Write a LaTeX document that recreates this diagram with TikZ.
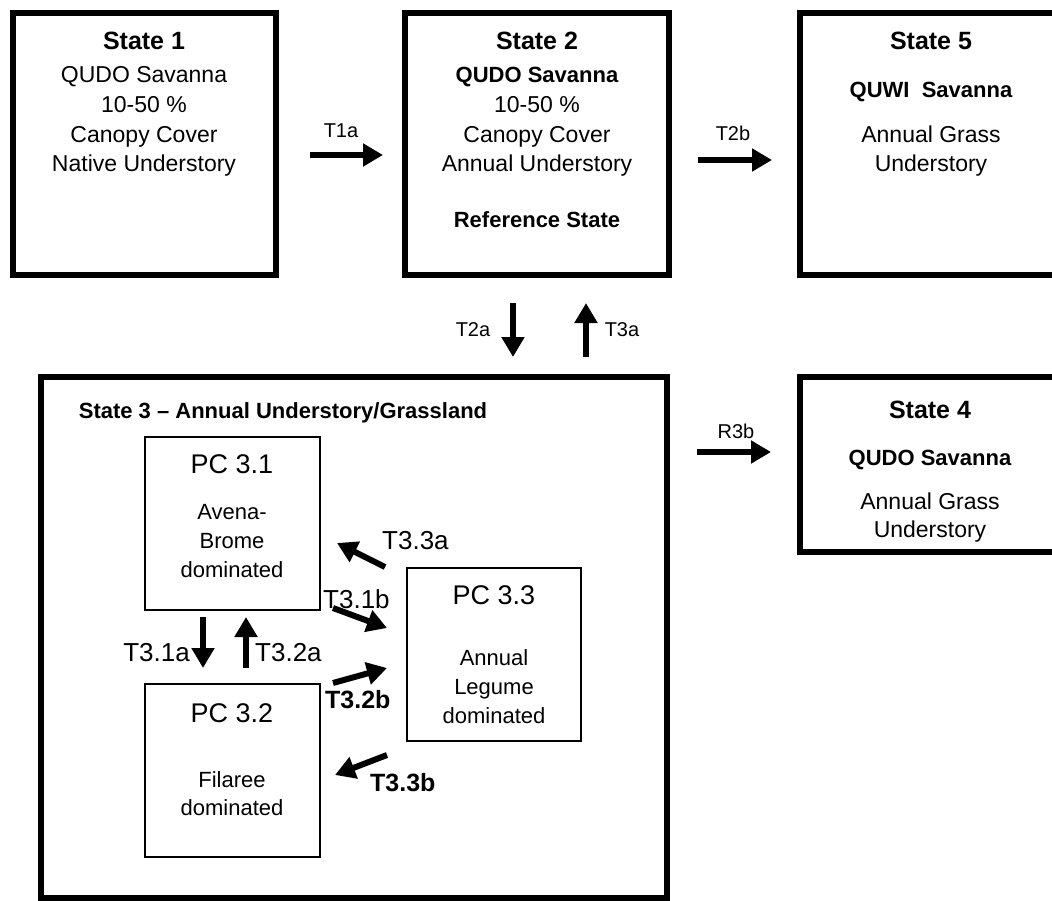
\documentclass[tikz,border=0pt]{standalone}
\usepackage{fontspec}
\setmainfont{Liberation Sans}
\usetikzlibrary{arrows.meta}
\begin{document}
\begin{tikzpicture}[x=1pt,y=-1pt,
  statebox/.style={draw=black, line width=6pt, inner sep=0pt, outer sep=0pt, anchor=north west},
  pcbox/.style={draw=black, line width=2pt, inner sep=0pt, outer sep=0pt, anchor=north west},
  tarrow/.style={line width=6pt, -{Triangle[length=20pt,width=22pt]}},
  ttl/.style={anchor=base, inner sep=0pt, font=\fontsize{25}{30}\selectfont\bfseries},
  body/.style={anchor=base, inner sep=0pt, font=\fontsize{23}{28}\selectfont},
  bodyb/.style={anchor=base, inner sep=0pt, font=\fontsize{22}{27}\selectfont\bfseries},
  pcttl/.style={anchor=base, inner sep=0pt, font=\fontsize{27}{32}\selectfont},
  pcbody/.style={anchor=base, inner sep=0pt, font=\fontsize{22}{27}\selectfont},
  tlab/.style={inner sep=0pt, font=\fontsize{26}{31}\selectfont},
  tlabb/.style={inner sep=0pt, font=\fontsize{25}{30}\selectfont\bfseries},
  slab/.style={anchor=base, inner sep=0pt, font=\fontsize{20}{24}\selectfont},
  s3ttl/.style={anchor=base, inner sep=0pt, font=\fontsize{22}{27}\selectfont\bfseries}
]
\useasboundingbox (0,0) rectangle (1052,901);
\clip (0,0) rectangle (1052,901);
\fill[white] (0,0) rectangle (1052,901);

% State boxes
\node[statebox, minimum width=263pt, minimum height=262pt] (s1) at (13,13) {};
\node[statebox, minimum width=264pt, minimum height=262pt] (s2) at (405,13) {};
\node[statebox, minimum width=264pt, minimum height=262pt] (s5) at (800,13) {};
\node[statebox, minimum width=264pt, minimum height=175pt] (s4) at (800,377) {};
\node[statebox, minimum width=626pt, minimum height=521pt] (s3) at (41,377) {};

% PC boxes
\node[pcbox, minimum width=175pt, minimum height=173pt] (pc31) at (145,437) {};
\node[pcbox, minimum width=175pt, minimum height=173pt] (pc32) at (145,684) {};
\node[pcbox, minimum width=174pt, minimum height=173pt] (pc33) at (407,568) {};

% State 1 text
\node[ttl]  (s1t) at (144,50) {State 1};
\node[body] (s1a) at (144,83) {QUDO Savanna};
\node[body] (s1b) at (144,113) {10-50 \%};
\node[body] (s1c) at (144,143) {Canopy Cover};
\node[body] (s1d) at (144,172) {Native Understory};

% State 2 text
\node[ttl]   (s2t) at (537,50) {State 2};
\node[bodyb] (s2a) at (537,83) {QUDO Savanna};
\node[body]  (s2b) at (537,113) {10-50 \%};
\node[body]  (s2c) at (537,143) {Canopy Cover};
\node[body]  (s2d) at (537,172) {Annual Understory};
\node[bodyb] (s2e) at (537,228) {Reference State};

% State 5 text
\node[ttl]   (s5t) at (931,50) {State 5};
\node[bodyb] (s5a) at (931,98) {QUWI\ \ Savanna};
\node[body]  (s5b) at (931,143) {Annual Grass};
\node[body]  (s5c) at (931,172) {Understory};

% State 4 text
\node[ttl]   (s4t) at (930,418) {State 4};
\node[bodyb] (s4a) at (930,465) {QUDO Savanna};
\node[body]  (s4b) at (930,509) {Annual Grass};
\node[body]  (s4c) at (930,537) {Understory};

% State 3 title
\node[s3ttl] (s3t) at (283,418) {State 3 -- Annual Understory/Grassland};

% PC texts
\node[pcttl]  (p1t) at (232,473) {PC 3.1};
\node[pcbody] (p1a) at (232,519) {Avena-};
\node[pcbody] (p1b) at (232,548) {Brome};
\node[pcbody] (p1c) at (232,577) {dominated};

\node[pcttl]  (p3t) at (494,604) {PC 3.3};
\node[pcbody] (p3a) at (494,665) {Annual};
\node[pcbody] (p3b) at (494,694) {Legume};
\node[pcbody] (p3c) at (494,723) {dominated};

\node[pcttl]  (p2t) at (232,722) {PC 3.2};
\node[pcbody] (p2a) at (232,787) {Filaree};
\node[pcbody] (p2b) at (232,815) {dominated};

% arrow end points
\coordinate (t1a-s) at (310,155);  \coordinate (t1a-e) at (383,155);
\coordinate (t2b-s) at (698,160);  \coordinate (t2b-e) at (772,160);
\coordinate (r3b-s) at (697,452);  \coordinate (r3b-e) at (771,452);
\coordinate (t2a-s) at (513,303);  \coordinate (t2a-e) at (513,357);
\coordinate (t3a-s) at (586,357);  \coordinate (t3a-e) at (586,303);
\coordinate (t31a-s) at (203,617); \coordinate (t31a-e) at (203,668);
\coordinate (t32a-s) at (246,668); \coordinate (t32a-e) at (246,617);
\coordinate (t33a-s) at (385,567); \coordinate (t33a-e) at (337,543);
\coordinate (t31b-s) at (333,608); \coordinate (t31b-e) at (387,628);
\coordinate (t32b-s) at (333,683); \coordinate (t32b-e) at (387,668);
\coordinate (t33b-s) at (387,755); \coordinate (t33b-e) at (335,775);

% arrows
\draw[tarrow] (t1a-s) -- (t1a-e);
\draw[tarrow] (t2b-s) -- (t2b-e);
\draw[tarrow] (r3b-s) -- (r3b-e);
\draw[tarrow] (t2a-s) -- (t2a-e);
\draw[tarrow] (t3a-s) -- (t3a-e);
\draw[tarrow] (t31a-s) -- (t31a-e);
\draw[tarrow] (t32a-s) -- (t32a-e);
\draw[tarrow] (t33a-s) -- (t33a-e);
\draw[tarrow] (t31b-s) -- (t31b-e);
\draw[tarrow] (t32b-s) -- (t32b-e);
\draw[tarrow] (t33b-s) -- (t33b-e);

% arrow labels
\node[slab] (lt1a) at (341,138) {T1a};
\node[slab] (lt2b) at (733,141) {T2b};
\node[slab] (lr3b) at (736,438) {R3b};
\node[slab] (lt2a) at (473,337) {T2a};
\node[slab] (lt3a) at (622,337) {T3a};
\node[tlab, anchor=base west] (lt33a) at (382,549) {T3.3a};
\node[tlab, anchor=base west] (lt31b) at (323,608) {T3.1b};
\node[tlab, anchor=base east] (lt31a) at (190,661) {T3.1a};
\node[tlab, anchor=base west] (lt32a) at (255,661) {T3.2a};
\node[tlabb, anchor=base west] (lt32b) at (325,708) {T3.2b};
\node[tlabb, anchor=base west] (lt33b) at (370,791) {T3.3b};
\end{tikzpicture}
\end{document}
